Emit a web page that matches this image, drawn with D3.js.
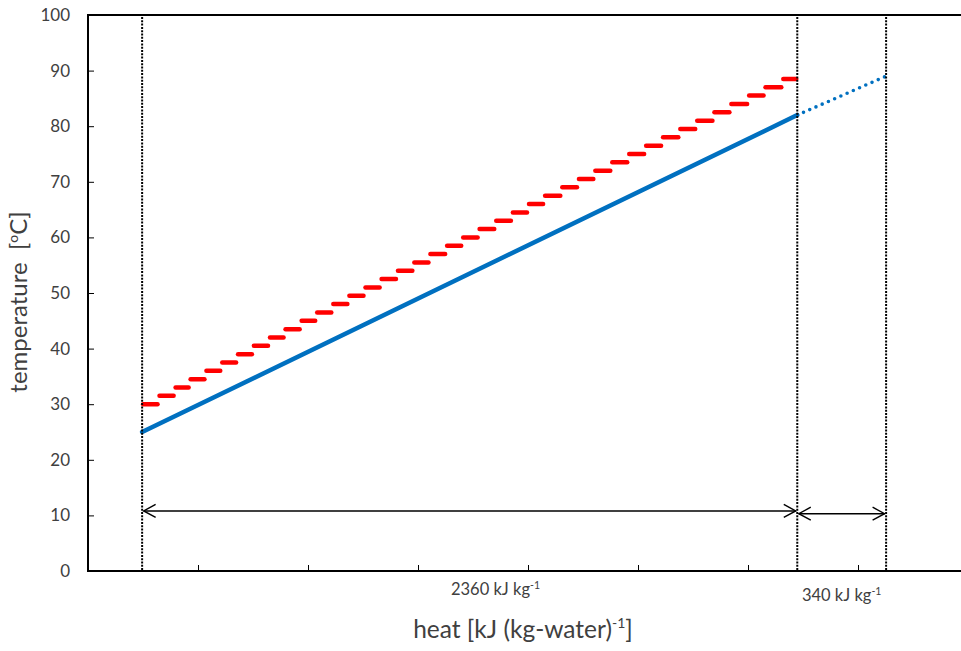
<!DOCTYPE html>
<html>
<head>
<meta charset="utf-8">
<script src="https://cdn.jsdelivr.net/npm/d3@7"></script>
<style>
  body { margin: 0; background: #fff; }
  svg { display: block; }
  text { font-family: Lato, "Open Sans", sans-serif; fill: #404040; }
</style>
</head>
<body>
<svg id="chart" width="961" height="651"></svg>
<script>
// Heat added per kg of water vs. temperature: sensible heating line (blue)
// and the stepped temperature profile of the heating medium (red).

const heatMax = 3170;                       // kJ (kg-water)^-1, right end of the x axis
const tempTicks = [0, 10, 20, 30, 40, 50, 60, 70, 80, 90, 100];

// dotted verticals: start, end of the 2360 kJ span, end of the 340 kJ span
const markerHeat = [195, 2555, 2875];

// water temperature line
const lineHeat = [195, 2555];
const lineTemp = [25, 82];
const extHeat = [2555, 2875];
const extTemp = [82, 89];

// stepped profile: step boundaries (41) and the temperature of each step (40)
const stepHeat = [195, 254, 312, 366, 423, 480, 537, 594, 652, 708, 766, 822, 880, 938,
  996, 1054, 1113, 1172, 1230, 1290, 1348, 1407, 1467, 1527, 1585, 1643, 1705, 1765,
  1824, 1885, 1946, 2007, 2068, 2130, 2191, 2253, 2314, 2378, 2437, 2501, 2555];
const stepTemp = [30, 31.5, 33, 34.5, 36, 37.5, 39, 40.5, 42, 43.5, 45, 46.5, 48, 49.5,
  51, 52.5, 54, 55.5, 57, 58.5, 60, 61.5, 63, 64.5, 66, 67.5, 69, 70.5, 72, 73.5,
  75, 76.5, 78, 79.5, 81, 82.5, 84, 85.5, 87, 88.5];

// span arrows and their labels
const spanValue = [2360, 340];
const spanFrom = [195, 2555];
const spanTo = [2555, 2875];
const spanTemp = [10.8, 10.3];
const spanLabelHeat = [1468, 2715];
const spanLabelDrop = [24, 30];

const svg = d3.select("#chart");
const margin = { left: 88, top: 15, bottom: 80 };
const H = 651;

const x = d3.scaleLinear().domain([0, heatMax]).range([margin.left, 968]);
const y = d3.scaleLinear().domain([0, 100]).range([H - margin.bottom, margin.top]);

const x0 = x(0), y0 = y(0), yTop = y(100);

// y axis: ticks point inward
const yAxis = d3.axisLeft(y).tickValues(tempTicks).tickSize(-6).tickPadding(18)
  .tickFormat(d3.format("d"));
const gy = svg.append("g").attr("transform", `translate(${x0},0)`).call(yAxis);
gy.select(".domain").remove();
gy.selectAll(".tick line").attr("stroke", "#000").attr("stroke-width", 1);
gy.selectAll(".tick text").attr("font-size", 17).attr("fill", "#404040")
  .style("font-family", "Lato, 'Open Sans', sans-serif");

// x axis: unlabelled inward ticks, eight equal divisions
const xAxis = d3.axisBottom(x).tickValues(d3.range(1, 8).map(i => heatMax * i / 8))
  .tickSize(-6).tickFormat("");
const gx = svg.append("g").attr("transform", `translate(0,${y0})`).call(xAxis);
gx.select(".domain").remove();
gx.selectAll(".tick line").attr("stroke", "#000").attr("stroke-width", 1);

// frame: left, bottom and top edges
svg.append("line").attr("x1", x0).attr("x2", x0).attr("y1", yTop - 1).attr("y2", y0 + 1)
  .attr("stroke", "#000").attr("stroke-width", 2);
svg.append("line").attr("x1", x0).attr("x2", 961).attr("y1", y0).attr("y2", y0)
  .attr("stroke", "#000").attr("stroke-width", 2);
svg.append("line").attr("x1", x0).attr("x2", 961).attr("y1", yTop).attr("y2", yTop)
  .attr("stroke", "#000").attr("stroke-width", 2);

// stepped profile
svg.append("g").selectAll("rect").data(stepTemp).join("rect")
  .attr("x", (d, i) => x(stepHeat[i]) - 1.25)
  .attr("width", (d, i) => x(stepHeat[i + 1]) - x(stepHeat[i]) + 2.5)
  .attr("y", d => y(d) - 2.25)
  .attr("height", 4.5)
  .attr("rx", 2.25)
  .attr("fill", "#ff0000");

// water temperature line
const line = d3.line().x(d => x(d[0])).y(d => y(d[1]));
svg.append("path").datum(lineHeat.map((h, i) => [h, lineTemp[i]]))
  .attr("d", line).attr("fill", "none").attr("stroke", "#0070c0")
  .attr("stroke-width", 4.5).attr("stroke-linecap", "round");
svg.append("path").datum(extHeat.map((h, i) => [h, extTemp[i]]))
  .attr("d", line).attr("fill", "none").attr("stroke", "#0070c0")
  .attr("stroke-width", 3.6).attr("stroke-linecap", "round")
  .attr("stroke-dasharray", "0,6.8");

// dotted verticals
svg.append("g").selectAll("line").data(markerHeat).join("line")
  .attr("x1", d => x(d)).attr("x2", d => x(d))
  .attr("y1", yTop + 2).attr("y2", y0)
  .attr("stroke", "#000").attr("stroke-width", 2)
  .attr("stroke-dasharray", "2,1.3");

// span arrows with open heads
const head = 12, half = 6.5;
const arrows = svg.append("g").attr("stroke", "#000").attr("stroke-width", 1.4)
  .attr("fill", "none");
spanValue.forEach((v, i) => {
  const xa = x(spanFrom[i]) + 1.5, xb = x(spanTo[i]) - 1.5, ya = y(spanTemp[i]);
  arrows.append("line").attr("x1", xa).attr("x2", xb).attr("y1", ya).attr("y2", ya);
  arrows.append("path").attr("d", `M${xa + head},${ya - half}L${xa},${ya}L${xa + head},${ya + half}`);
  arrows.append("path").attr("d", `M${xb - head},${ya - half}L${xb},${ya}L${xb - head},${ya + half}`);
});

// span labels
spanValue.forEach((v, i) => {
  const t = svg.append("text").attr("x", x(spanLabelHeat[i])).attr("y", y0 + spanLabelDrop[i])
    .attr("text-anchor", "middle").attr("font-size", 16.5);
  t.append("tspan").text(`${v} kJ kg`);
  t.append("tspan").attr("dy", -6).attr("font-size", 10.5).text("-1");
});

// axis titles
const xt = svg.append("text").attr("x", 523).attr("y", 638)
  .attr("text-anchor", "middle").attr("font-size", 24.5).attr("fill", "#262626");
xt.append("tspan").text("heat [kJ (kg-water)");
xt.append("tspan").attr("dy", -10).attr("font-size", 14).text("-1");
xt.append("tspan").attr("dy", 10).text("]");

const yt = svg.append("text").attr("transform", "translate(27,302) rotate(-90)")
  .attr("text-anchor", "middle").attr("font-size", 24).attr("fill", "#262626")
  .attr("xml:space", "preserve");
yt.append("tspan").text("temperature  [");
yt.append("tspan").attr("dy", -9).attr("font-size", 14).text("o");
yt.append("tspan").attr("dy", 9).text("C]");
</script>
</body>
</html>
